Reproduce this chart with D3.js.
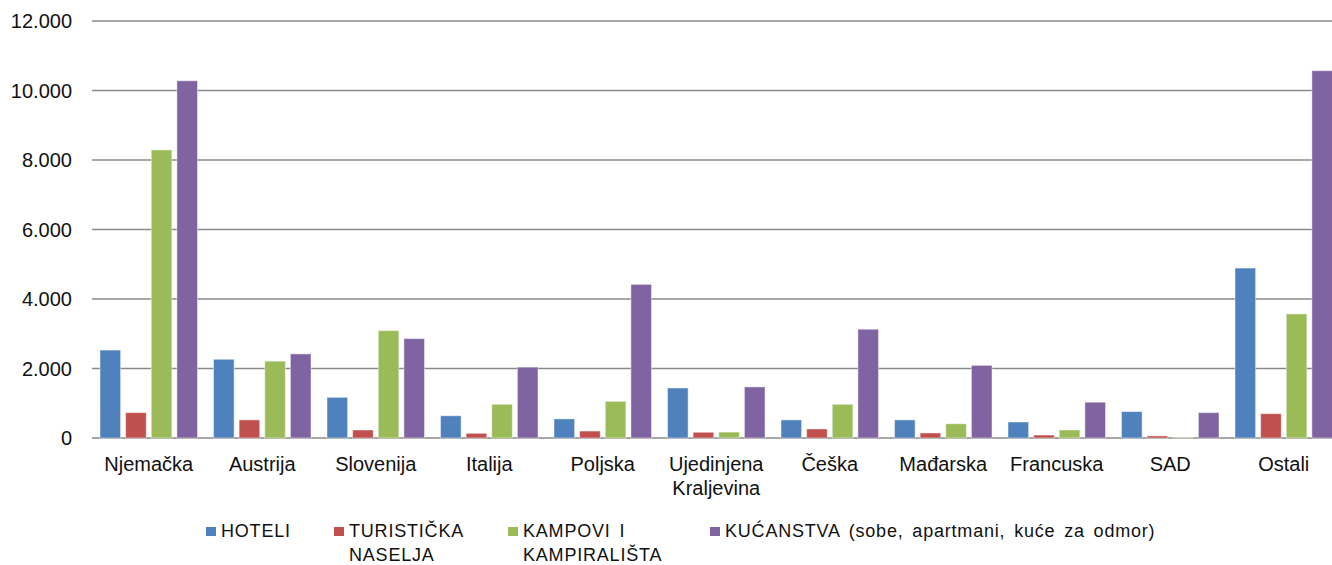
<!DOCTYPE html>
<html>
<head>
<meta charset="utf-8">
<script src="https://cdn.jsdelivr.net/npm/d3@7"></script>
<style>
  html, body { margin: 0; padding: 0; background: #fff; }
  svg { display: block; font-family: "Liberation Sans", Arial, Helvetica, sans-serif; }
</style>
</head>
<body>
<svg id="chart" width="1332" height="565"></svg>
<script>
"use strict";
const categories = ["Njemačka", "Austrija", "Slovenija", "Italija", "Poljska", "Ujedinjena Kraljevina", "Češka", "Mađarska", "Francuska", "SAD", "Ostali"];
const seriesNames = ["HOTELI", "TURISTIČKA NASELJA", "KAMPOVI I KAMPIRALIŠTA", "KUĆANSTVA (sobe, apartmani, kuće za odmor)"];
const hoteli      = [2530, 2265, 1170, 640, 550, 1440, 520, 520, 460, 760, 4890];
const naselja     = [730, 520, 230, 135, 200, 165, 260, 145, 85, 60, 700];
const kampovi     = [8290, 2210, 3090, 970, 1055, 170, 970, 410, 230, 15, 3570];
const kucanstva   = [10280, 2420, 2860, 2040, 4420, 1470, 3130, 2090, 1030, 730, 10570];
const yTicks = [0, 2000, 4000, 6000, 8000, 10000, 12000];
const colors = ["#4f81bd", "#c0504d", "#9bbb59", "#8064a2"];
// legend labels as they wrap in the original
const legendLines = [["HOTELI"], ["TURISTIČKA", "NASELJA"], ["KAMPOVI I", "KAMPIRALIŠTA"], ["KUĆANSTVA (sobe, apartmani, kuće za odmor)"]];
const catLines = categories.map(c => c === "Ujedinjena Kraljevina" ? ["Ujedinjena", "Kraljevina"] : [c]);

const values = [hoteli, naselja, kampovi, kucanstva];
const svg = d3.select("#chart");

const left = 92, step = 113.5;
const x0 = d3.scaleBand().domain(categories).range([left, left + step * categories.length]);
const x1 = d3.scaleBand().domain(d3.range(seriesNames.length)).range([8, step - 8]).paddingInner(0.196);
const y = d3.scaleLinear().domain([0, 12000]).range([438, 21]);

const fmt = d3.formatLocale({ decimal: ",", thousands: ".", grouping: [3], currency: ["", ""] }).format(",d");

// gridlines
svg.append("g").selectAll("line").data(yTicks).enter().append("line")
    .attr("x1", left).attr("x2", 1332)
    .attr("y1", d => y(d)).attr("y2", d => y(d))
    .attr("stroke", "#8a8a8a").attr("stroke-width", 1.6);

// y axis labels
svg.append("g").selectAll("text").data(yTicks).enter().append("text")
    .attr("x", 72).attr("y", d => y(d)).attr("dy", "0.37em")
    .attr("text-anchor", "end").attr("font-size", 20).attr("fill", "#111")
    .text(d => fmt(d));

// bars
const groups = svg.append("g").selectAll("g").data(categories).enter().append("g")
    .attr("transform", c => `translate(${x0(c)},0)`);
groups.selectAll("rect").data((c, i) => values.map((s, k) => ({ k: k, v: s[i] }))).enter().append("rect")
    .attr("x", d => x1(d.k)).attr("width", x1.bandwidth())
    .attr("y", d => y(d.v)).attr("height", d => y(0) - y(d.v))
    .attr("fill", d => colors[d.k])
    .attr("stroke", "#fff").attr("stroke-opacity", 0.45).attr("stroke-width", 1);

// x labels
const xl = svg.append("g").selectAll("text").data(categories).enter().append("text")
    .attr("x", c => x0(c) + step / 2).attr("y", 471)
    .attr("text-anchor", "middle").attr("font-size", 20).attr("fill", "#111");
xl.selectAll("tspan").data((c, i) => catLines[i]).enter().append("tspan")
    .attr("x", function () { return this.parentNode.getAttribute("x"); })
    .attr("dy", (d, i) => i ? 24 : 0).text(d => d);

// legend
const legendX = [206, 334, 508, 710];
const lg = svg.append("g").selectAll("g").data(seriesNames).enter().append("g")
    .attr("transform", (d, i) => `translate(${legendX[i]},0)`);
lg.append("rect").attr("x", 0).attr("y", 527).attr("width", 10).attr("height", 9)
    .attr("fill", (d, i) => colors[i]);
const lt = lg.append("text").attr("x", 15).attr("y", 537)
    .attr("font-size", 18).attr("letter-spacing", 0.8).attr("word-spacing", 3).attr("fill", "#111");
lt.selectAll("tspan").data((d, i) => legendLines[i]).enter().append("tspan")
    .attr("x", 15).attr("dy", (d, i) => i ? 24 : 0).text(d => d);
</script>
</body>
</html>
